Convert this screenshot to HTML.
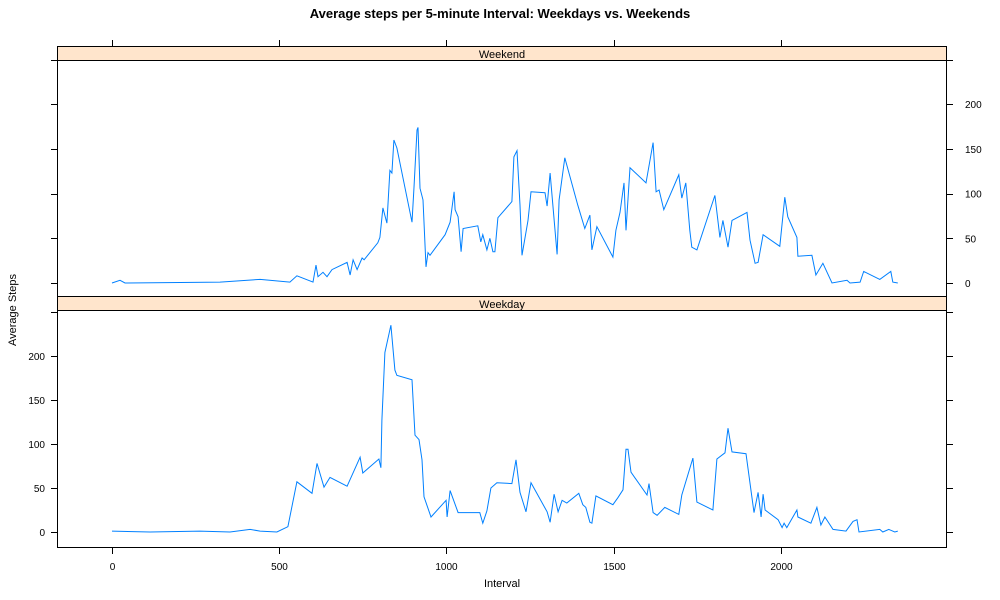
<!DOCTYPE html>
<html><head><meta charset="utf-8"><style>
body{margin:0;background:#fff}
svg{display:block;font-family:"Liberation Sans",sans-serif}
</style></head><body>
<svg id="chart" width="1000" height="600" viewBox="0 0 1000 600">
<text x="500" y="18" text-anchor="middle" font-size="13" font-weight="bold">Average steps per 5-minute Interval: Weekdays vs. Weekends</text>
<text transform="translate(16,310) rotate(-90)" text-anchor="middle" font-size="11">Average Steps</text>
<text x="502" y="587" text-anchor="middle" font-size="11">Interval</text>
<g id="g"></g>
</svg>
<script>
const xTicks=[0,500,1000,1500,2000];
const yTicks=[0,50,100,150,200];
const yTicksAll=[0,50,100,150,200,250];
const weekendIntervals=[0,24,39,323,443,532,553,601,610,616,631,643,658,703,712,721,733,748,754,795,801,810,822,831,837,843,852,897,903,912,915,921,930,939,945,951,996,1011,1023,1026,1035,1044,1050,1094,1103,1109,1121,1130,1139,1145,1154,1196,1202,1211,1220,1226,1244,1253,1295,1301,1310,1319,1331,1337,1354,1393,1414,1429,1435,1450,1498,1507,1519,1531,1537,1549,1597,1618,1627,1636,1650,1695,1704,1716,1728,1734,1749,1803,1818,1827,1842,1854,1899,1908,1923,1932,1947,1997,2012,2021,2048,2051,2093,2105,2126,2153,2198,2207,2237,2248,2296,2329,2335,2350];
const weekendSteps=[0,3,0,1,4,1,8,1,20,7,12,7,15,23,9,26,15,28,26,45,51,84,67,126,123,160,151,68,107,171,174,106,93,18,34,31,54,68,102,82,74,35,61,64,46,54,37,50,35,35,73,91,141,148,87,31,70,102,101,86,123,84,32,93,140,87,61,76,37,63,29,59,79,112,59,129,112,157,102,104,82,121,95,112,59,40,37,98,51,70,40,70,79,48,22,23,54,41,96,74,51,30,31,9,22,0,3,0,1,13,4,13,1,0];
const weekdayIntervals=[0,114,263,353,413,443,493,526,553,598,613,634,652,703,742,750,798,804,807,816,834,846,852,897,906,918,927,933,954,999,1002,1011,1035,1100,1109,1121,1133,1151,1196,1208,1220,1238,1253,1301,1310,1322,1334,1346,1360,1396,1408,1417,1429,1435,1447,1498,1513,1528,1537,1543,1552,1600,1606,1618,1630,1653,1695,1704,1737,1749,1797,1809,1833,1842,1854,1896,1920,1932,1941,1947,1953,1992,2004,2010,2018,2048,2051,2090,2108,2120,2132,2156,2195,2216,2228,2234,2296,2305,2323,2341,2350];
const weekdaySteps=[1,0,1,0,3,1,0,6,57,44,78,51,62,52,85,67,83,73,127,204,235,184,178,173,110,105,82,40,17,36,17,47,22,22,10,24,50,56,55,82,45,23,56,23,11,43,23,36,33,44,31,28,11,10,41,31,39,48,94,94,68,42,55,22,19,28,20,42,84,34,25,83,90,118,91,89,22,45,17,43,25,14,5,10,5,25,17,10,28,8,17,3,1,12,14,0,3,0,3,0,1];

const NS='http://www.w3.org/2000/svg';
const g=document.getElementById('g');
function mk(t,a,p){const e=document.createElementNS(NS,t);for(const k in a)e.setAttribute(k,a[k]);(p||g).appendChild(e);return e;}
const L=57.5,R=946.5;
const xs=v=>112+v*0.3344;
const yTop=v=>283-v*0.894;
const yBot=v=>532-v*0.88;

// strips & frames
const s1=mk('rect',{x:L,y:46.5,width:R-L,height:14,fill:'#ffe5cc',stroke:'#000'});


const t1=mk('text',{x:502,y:58,'text-anchor':'middle','font-size':11});t1.textContent='Weekend';


const s2=mk('rect',{x:L,y:296.5,width:R-L,height:14,fill:'#ffe5cc',stroke:'#000'});


const t2=mk('text',{x:502,y:308,'text-anchor':'middle','font-size':11});t2.textContent='Weekday';


const f1=mk('rect',{x:L,y:60.5,width:R-L,height:236,fill:'none',stroke:'#000'});


const f2=mk('rect',{x:L,y:310.5,width:R-L,height:237,fill:'none',stroke:'#000'});



// x ticks
xTicks.forEach(v=>{
  const x=Math.round(xs(v))+0.5;
  const a=mk('line',{x1:x,x2:x,y1:40,y2:46,stroke:'#000'});
  
  
  const b=mk('line',{x1:x,x2:x,y1:548,y2:554,stroke:'#000'});
  
  
  const t=mk('text',{x:x,y:570,'text-anchor':'middle','font-size':10});t.textContent=v;
  
  
});
// y ticks
yTicksAll.forEach(v=>{
  const y1=Math.round(yTop(v))+0.5, y2=Math.round(yBot(v))+0.5;
  const a=mk('line',{x1:51,x2:L,y1:y1,y2:y1,stroke:'#000'});
  
  
  const b=mk('line',{x1:R,x2:953,y1:y1,y2:y1,stroke:'#000'});
  
  
  const c=mk('line',{x1:51,x2:L,y1:y2,y2:y2,stroke:'#000'});
  
  
  const d=mk('line',{x1:R,x2:953,y1:y2,y2:y2,stroke:'#000'});
  
  
});
yTicks.forEach(v=>{
  const a=mk('text',{x:965,y:yTop(v)+4,'font-size':10});a.textContent=v;
  
  
  const b=mk('text',{x:45,y:yBot(v)+4,'text-anchor':'end','font-size':10});b.textContent=v;
  
  
});
// lines
const p1=mk('polyline',{points:weekendIntervals.map((v,i)=>xs(v).toFixed(1)+','+yTop(weekendSteps[i]).toFixed(1)).join(' '),fill:'none',stroke:'#0080ff','stroke-width':1});


const p2=mk('polyline',{points:weekdayIntervals.map((v,i)=>xs(v).toFixed(1)+','+yBot(weekdaySteps[i]).toFixed(1)).join(' '),fill:'none',stroke:'#0080ff','stroke-width':1});


</script>
</body></html>
